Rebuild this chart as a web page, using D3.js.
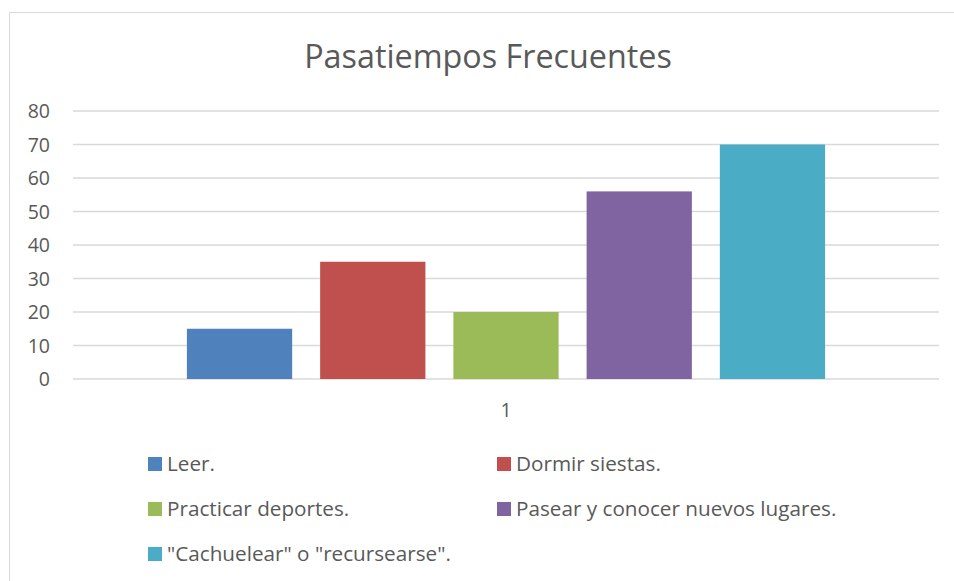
<!DOCTYPE html>
<html>
<head>
<meta charset="utf-8">
<script src="https://cdn.jsdelivr.net/npm/d3@7"></script>
<style>
  body { margin: 0; background: #fff; }
  text { font-family: "Open Sans", "Liberation Sans", sans-serif; fill: #595959; }
</style>
</head>
<body>
<svg id="chart" width="954" height="581"></svg>
<script>
// data
let categories = ["1"];
let series = ["Leer.", "Dormir siestas.", "Practicar deportes.", "Pasear y conocer nuevos lugares.", "\"Cachuelear\" o \"recursearse\"."];
let values = [15, 35, 20, 56, 70];
let colors = ["#4f81bd", "#c0504d", "#9bbb59", "#8064a2", "#4bacc6"];
let yTicks = [0, 10, 20, 30, 40, 50, 60, 70, 80];

let svg = d3.select("#chart");

// outer frame
svg.append("rect")
    .attr("x", 9.5).attr("y", 12.5)
    .attr("width", 960).attr("height", 580)
    .style("fill", "none")
    .style("stroke", "#d9d9d9");

// title
svg.append("text")
    .attr("x", 488).attr("y", 68)
    .attr("text-anchor", "middle")
    .style("font-size", "32.3px")
    .text("Pasatiempos Frecuentes");

let plot_left = 73, plot_right = 939;

let y = d3.scaleLinear()
    .domain([0, 80])
    .range([379, 111]);

let x0 = d3.scaleBand()
    .domain(categories)
    .range([plot_left, plot_right])
    .paddingOuter(0.15)
    .paddingInner(0);

let x1 = d3.scaleBand()
    .domain(series)
    .range([0, x0.bandwidth()])
    .paddingInner(0.21)
    .paddingOuter(0.105);

// gridlines
svg.selectAll(".grid").data(yTicks)
    .enter().append("line")
    .attr("class", "grid")
    .attr("x1", plot_left).attr("x2", plot_right)
    .attr("y1", function(d) {return y(d);})
    .attr("y2", function(d) {return y(d);})
    .style("stroke", "#d9d9d9")
    .style("stroke-width", 1.5);

// y labels
svg.selectAll(".ylab").data(yTicks)
    .enter().append("text")
    .attr("class", "ylab")
    .attr("x", 50)
    .attr("y", function(d) {return y(d) + 7;})
    .attr("text-anchor", "end")
    .style("font-size", "19.5px")
    .text(function(d) {return d;});

// bars
let group = svg.selectAll(".cat_g").data(categories)
    .enter().append("g")
    .attr("class", "cat_g")
    .attr("transform", function(d) {return "translate(" + x0(d) + ",0)";});

group.selectAll("rect").data(series.map(function(s, i) {return {name: s, value: values[i], color: colors[i]};}))
    .enter().append("rect")
    .attr("x", function(d) {return x1(d.name);})
    .attr("width", x1.bandwidth())
    .attr("y", function(d) {return y(d.value);})
    .attr("height", function(d) {return y(0) - y(d.value);})
    .style("fill", function(d) {return d.color;});

// category label
svg.selectAll(".xlab").data(categories)
    .enter().append("text")
    .attr("class", "xlab")
    .attr("x", function(d) {return x0(d) + x0.bandwidth() / 2;})
    .attr("y", 417)
    .attr("text-anchor", "middle")
    .style("font-size", "19.5px")
    .text(function(d) {return d;});

// legend
let legend = svg.selectAll(".legend").data(series)
    .enter().append("g")
    .attr("class", "legend")
    .attr("transform", function(d, i) {
        let lx = (i % 2 === 0) ? 148 : 497;
        let ly = 457 + Math.floor(i / 2) * 45;
        return "translate(" + lx + "," + ly + ")";
    });

legend.append("rect")
    .attr("width", 14).attr("height", 14)
    .style("fill", function(d, i) {return colors[i];});

legend.append("text")
    .attr("x", 19).attr("y", 14)
    .style("font-size", "20.7px")
    .text(function(d) {return d;});
</script>
</body>
</html>
